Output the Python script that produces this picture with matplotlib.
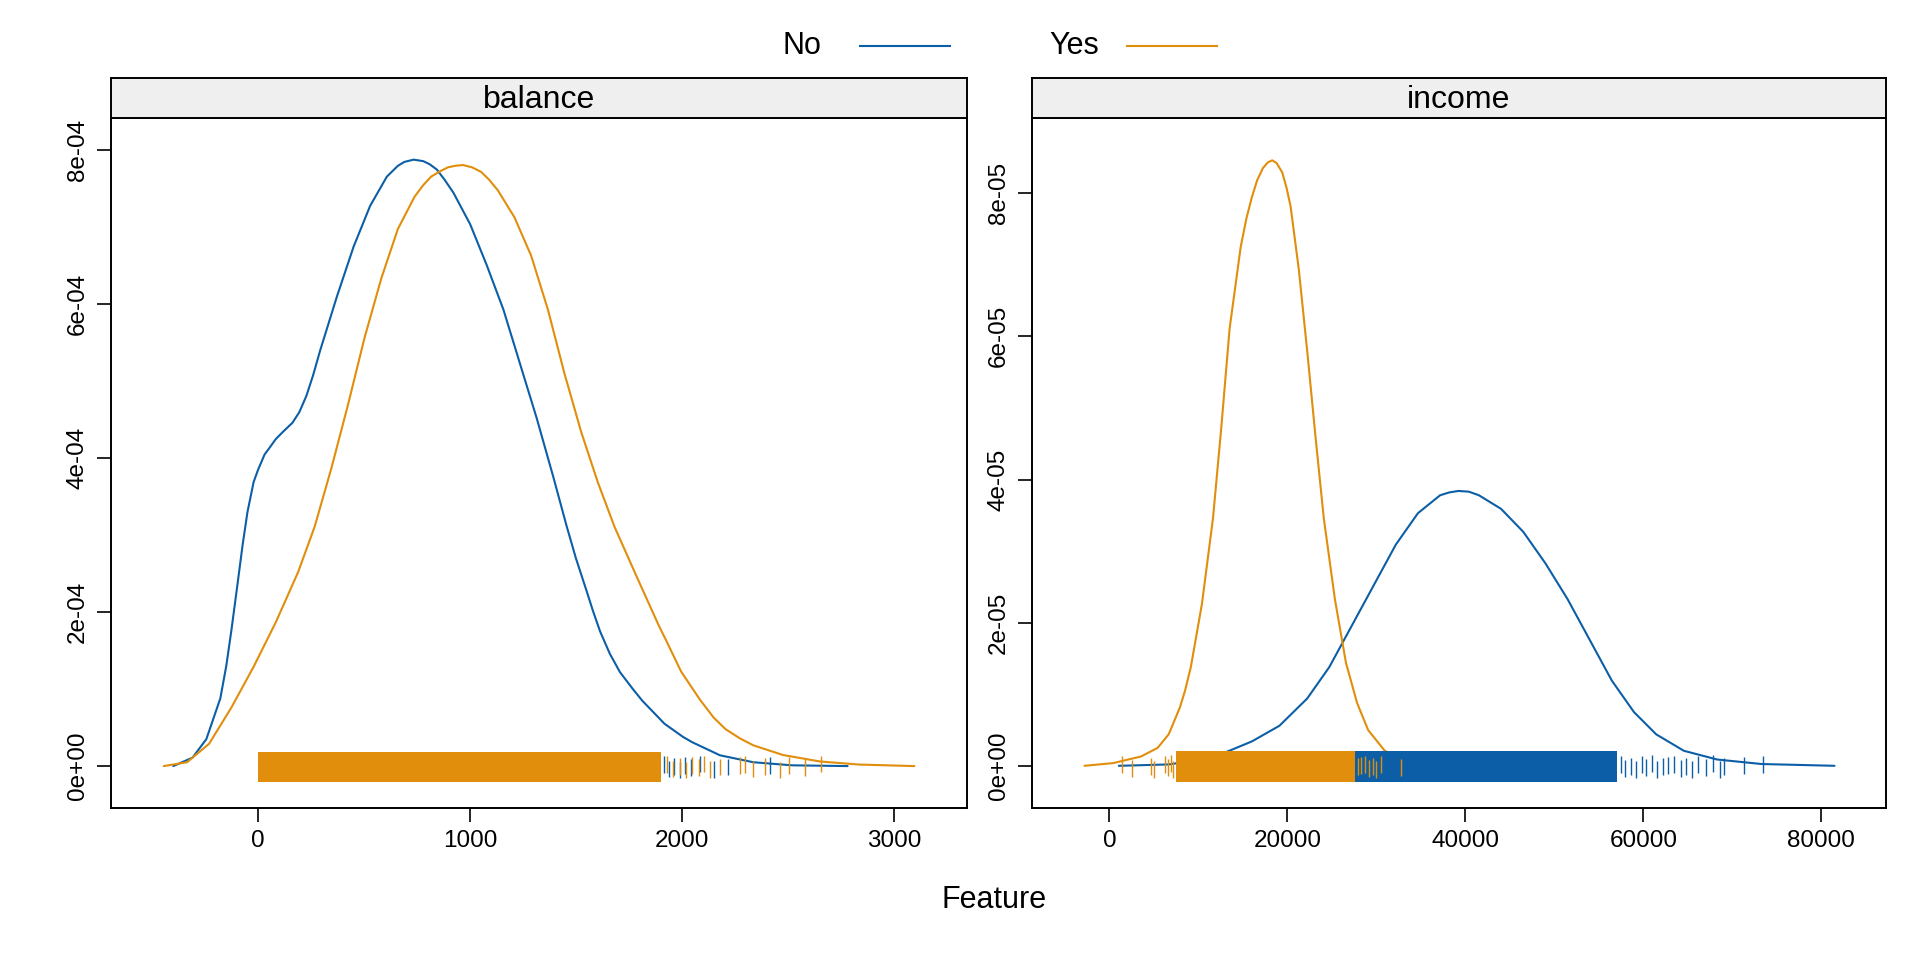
import numpy as np
import matplotlib.pyplot as plt
from matplotlib.lines import Line2D

plt.rcParams['font.family'] = ['Liberation Sans', 'DejaVu Sans']

# -------------------- data --------------------

groups = ['No', 'Yes']
group_colors = {'No': '#0C5FA6', 'Yes': '#E08E0B'}

# balance panel: density curves
bal_no_x = [-400, -309, -244, -178, -150, -126, -100, -73, -50, -21, 0, 31, 50, 84, 120,
            162, 195, 228, 260, 293, 372, 451, 529, 608, 660, 690, 734, 780, 810, 844,
            880, 922, 1001, 1079, 1158, 1237, 1315, 1394, 1456, 1500, 1551, 1580, 1614,
            1660, 1708, 1769, 1813, 1918, 2005, 2049, 2180, 2337, 2520, 2782]
bal_no_y = [0, 1.1e-5, 3.5e-5, 8.8e-5, 1.3e-4, 1.76e-4, 2.3e-4, 2.87e-4, 3.3e-4,
            3.69e-4, 3.85e-4, 4.05e-4, 4.12e-4, 4.25e-4, 4.35e-4, 4.46e-4, 4.60e-4,
            4.81e-4, 5.08e-4, 5.40e-4, 6.10e-4, 6.75e-4, 7.28e-4, 7.66e-4, 7.80e-4,
            7.85e-4, 7.88e-4, 7.86e-4, 7.82e-4, 7.75e-4, 7.62e-4, 7.45e-4, 7.04e-4,
            6.51e-4, 5.93e-4, 5.22e-4, 4.52e-4, 3.75e-4, 3.12e-4, 2.70e-4, 2.27e-4,
            2.02e-4, 1.75e-4, 1.46e-4, 1.22e-4, 1.00e-4, 8.5e-5, 5.5e-5, 3.8e-5,
            3.1e-5, 1.4e-5, 5e-6, 1e-6, 0]
bal_yes_x = [-445, -335, -231, -126, -21, 84, 189, 267, 346, 424, 503, 582, 660, 739,
             780, 817, 860, 896, 930, 967, 1010, 1053, 1090, 1132, 1210, 1289, 1368,
             1446, 1525, 1603, 1682, 1787, 1892, 1928, 1996, 2086, 2150, 2206, 2274,
             2337, 2477, 2651, 2835, 3097]
bal_yes_y = [0, 5e-6, 2.9e-5, 7.6e-5, 1.29e-4, 1.87e-4, 2.52e-4, 3.11e-4, 3.87e-4,
             4.69e-4, 5.57e-4, 6.34e-4, 6.98e-4, 7.40e-4, 7.55e-4, 7.66e-4, 7.73e-4,
             7.78e-4, 7.80e-4, 7.81e-4, 7.78e-4, 7.72e-4, 7.62e-4, 7.48e-4, 7.13e-4,
             6.63e-4, 5.93e-4, 5.10e-4, 4.34e-4, 3.69e-4, 3.11e-4, 2.46e-4, 1.82e-4,
             1.62e-4, 1.23e-4, 8.6e-5, 6.3e-5, 4.8e-5, 3.6e-5, 2.7e-5, 1.44e-5, 6e-6,
             2e-6, 0]

# balance panel: rug (dense core range + isolated ticks)
bal_no_core = (0, 1880)
bal_no_ticks = [1915, 1940, 1965, 1990, 2015, 2045, 2086, 2150, 2219, 2416]
bal_yes_core = (0, 1900)
bal_yes_ticks = [1930, 1960, 1990, 2020, 2050, 2080, 2105, 2133, 2180, 2274, 2298,
                 2337, 2392, 2463, 2507, 2581, 2655]

# income panel: density curves
inc_no_x = [1058, 6661, 9774, 12887, 16000, 19113, 22226, 24716, 27206, 29696, 32187,
            34677, 37168, 38200, 39222, 40400, 41526, 44016, 46506, 48996, 51486,
            53977, 56467, 58957, 61447, 64560, 68296, 73277, 81494]
inc_no_y = [0, 1.9e-7, 7.6e-7, 1.8e-6, 3.4e-6, 5.6e-6, 9.4e-6, 1.38e-5, 1.95e-5,
            2.52e-5, 3.09e-5, 3.53e-5, 3.78e-5, 3.82e-5, 3.84e-5, 3.83e-5, 3.78e-5,
            3.59e-5, 3.27e-5, 2.83e-5, 2.33e-5, 1.76e-5, 1.19e-5, 7.5e-6, 4.4e-6,
            2.1e-6, 8.8e-7, 2.5e-7, 0]
inc_yes_x = [-2800, 436, 3548, 5416, 6661, 7906, 8500, 9151, 10396, 11642, 12576,
             13510, 14755, 15400, 16000, 16600, 17245, 17800, 18304, 18800, 19424,
             19900, 20358, 21292, 22226, 23160, 24093, 25339, 26584, 27829, 29074,
             30942, 33432, 37168]
inc_yes_y = [0, 3.8e-7, 1.3e-6, 2.5e-6, 4.4e-6, 8.1e-6, 1.05e-5, 1.38e-5, 2.26e-5,
             3.46e-5, 4.73e-5, 6.11e-5, 7.25e-5, 7.65e-5, 7.94e-5, 8.18e-5, 8.35e-5,
             8.43e-5, 8.46e-5, 8.42e-5, 8.29e-5, 8.08e-5, 7.82e-5, 6.93e-5, 5.80e-5,
             4.60e-5, 3.46e-5, 2.33e-5, 1.44e-5, 8.8e-6, 5.0e-6, 2.1e-6, 7.6e-7, 0]

# income panel: rug
inc_no_core = (8000, 57000)
inc_no_ticks = [57500, 58000, 58600, 59200, 59800, 60300, 61000, 61500, 62200, 62800,
                63500, 64200, 64800, 65500, 66200, 67000, 67800, 68600, 69100, 71300,
                73500]
inc_yes_core = (7500, 27600)
inc_yes_ticks = [1400, 2500, 4700, 5000, 6200, 6600, 6900, 7200, 27900, 28300, 28700,
                 29200, 29600, 30000, 30500, 32800]

panels = [
    {
        'title': 'balance',
        'curves': {'No': (bal_no_x, bal_no_y), 'Yes': (bal_yes_x, bal_yes_y)},
        'cores': {'No': bal_no_core, 'Yes': bal_yes_core},
        'ticks': {'No': bal_no_ticks, 'Yes': bal_yes_ticks},
        'xticks': [0, 1000, 2000, 3000],
        'yticks': [0, 2e-4, 4e-4, 6e-4, 8e-4],
        'yticklabels': ['0e+00', '2e-04', '4e-04', '6e-04', '8e-04'],
        'xlim': (-694, 3345),
        'ylim': (-5.45e-5, 8.42e-4),
        'band': (-2.1e-5, 1.8e-5),
        'rect': [0.0578, 0.1583, 0.4458, 0.7187],
    },
    {
        'title': 'income',
        'curves': {'No': (inc_no_x, inc_no_y), 'Yes': (inc_yes_x, inc_yes_y)},
        'cores': {'No': inc_no_core, 'Yes': inc_yes_core},
        'ticks': {'No': inc_no_ticks, 'Yes': inc_yes_ticks},
        'xticks': [0, 20000, 40000, 60000, 80000],
        'yticks': [0, 2e-5, 4e-5, 6e-5, 8e-5],
        'yticklabels': ['0e+00', '2e-05', '4e-05', '6e-05', '8e-05'],
        'xlim': (-8700, 87280),
        'ylim': (-5.9e-6, 9.05e-5),
        'band': (-2.3e-6, 2.0e-6),
        'rect': [0.5375, 0.1583, 0.4448, 0.7187],
    },
]

# little vertical offsets for the isolated rug ticks (fraction of half band)
jitter_pattern = [0.35, -0.25, 0.1, -0.4, 0.25, -0.05, 0.4, -0.3, 0.0, 0.2]

# -------------------- drawing --------------------

fig = plt.figure(figsize=(19.2, 9.6), dpi=100)

for p in panels:
    ax = fig.add_axes(p['rect'])
    lo, hi = p['band']
    half = (hi - lo) / 2
    mid = (hi + lo) / 2
    for g in groups:
        col = group_colors[g]
        cx, cy = p['curves'][g]
        ax.plot(cx, cy, color=col, lw=1.5, zorder=2,
                solid_joinstyle='round', solid_capstyle='round')
        c0, c1 = p['cores'][g]
        ax.fill_between([c0, c1], lo, hi, color=col, lw=0, zorder=3)
        tks = p['ticks'][g]
        offs = [mid + jitter_pattern[i % len(jitter_pattern)] * half * 0.5
                for i in range(len(tks))]
        ax.vlines(tks, [o - half * 0.55 for o in offs], [o + half * 0.55 for o in offs],
                  color=col, lw=1.0, zorder=3)

    ax.set_xlim(*p['xlim'])
    ax.set_ylim(*p['ylim'])
    ax.set_xticks(p['xticks'])
    ax.set_xticklabels([str(t) for t in p['xticks']])
    ax.set_yticks(p['yticks'])
    ax.set_yticklabels(p['yticklabels'], rotation=90, va='center')
    ax.tick_params(axis='both', direction='out', length=10, width=1.2,
                   labelsize=17.5, pad=6)
    ax.tick_params(top=False, right=False)
    for s in ax.spines.values():
        s.set_linewidth(1.4)

    # strip on top of the panel
    r = p['rect']
    sax = fig.add_axes([r[0], r[1] + r[3], r[2], 0.0417])
    sax.set_facecolor('#EFEFEF')
    sax.set_xticks([])
    sax.set_yticks([])
    for s in sax.spines.values():
        s.set_linewidth(1.4)
    sax.text(0.5, 0.45, p['title'], ha='center', va='center', fontsize=23,
             transform=sax.transAxes)

# key at the top
fig.text(0.4175, 0.952, 'No', ha='center', va='center', fontsize=22)
fig.add_artist(Line2D([0.448, 0.495], [0.952, 0.952], color=group_colors['No'], lw=1.5))
fig.text(0.5595, 0.952, 'Yes', ha='center', va='center', fontsize=22)
fig.add_artist(Line2D([0.587, 0.634], [0.952, 0.952], color=group_colors['Yes'], lw=1.5))

fig.text(0.518, 0.062, 'Feature', ha='center', va='center', fontsize=22)

fig.savefig('out.png', dpi=100)
